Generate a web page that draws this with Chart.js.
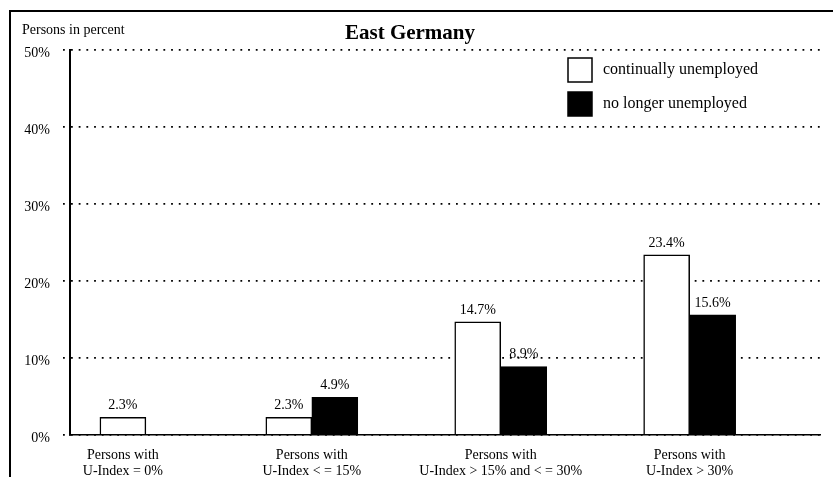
<!DOCTYPE html>
<html>
<head>
<meta charset="utf-8">
<script src="https://cdn.jsdelivr.net/npm/chart.js@4/dist/chart.umd.min.js"></script>
<style>
  html, body { margin: 0; padding: 0; background: #fff; overflow: hidden; }
  #wrap { position: relative; width: 833px; height: 477px; }
  #frame { position: absolute; left: 9px; top: 10px; width: 830px; height: 470px;
           border-top: 2px solid #000; border-left: 2px solid #000; pointer-events: none; }
</style>
</head>
<body>
<div id="wrap">
  <canvas id="chart"></canvas>
  <div id="frame"></div>
</div>
<script>
// values
const categories = [
  ["Persons with", "U-Index = 0%"],
  ["Persons with", "U-Index < = 15%"],
  ["Persons with", "U-Index > 15% and < = 30%"],
  ["Persons with", "U-Index > 30%"]
];
const continuallyUnemployed = [2.3, 2.3, 14.7, 23.4];
const noLongerUnemployed = [null, 4.9, 8.9, 15.6];
const yTicks = [0, 10, 20, 30, 40, 50];

const serif = "'Liberation Serif', 'DejaVu Serif', serif";

// value labels above each bar
const barLabels = {
  id: "barLabels",
  afterDatasetsDraw(chart) {
    const ctx = chart.ctx;
    ctx.save();
    ctx.font = "14px " + serif;
    ctx.fillStyle = "#000";
    ctx.textAlign = "center";
    ctx.textBaseline = "bottom";
    chart.data.datasets.forEach((ds, i) => {
      chart.getDatasetMeta(i).data.forEach((bar, j) => {
        const v = ds.data[j].y;
        if (v == null) return;
        ctx.fillText(v.toFixed(1) + "%", bar.x, bar.y - 5);
      });
    });
    ctx.restore();
  }
};

// axis caption and boxed legend inside the plot
const extras = {
  id: "extras",
  afterDraw(chart) {
    const ctx = chart.ctx;
    ctx.save();
    ctx.fillStyle = "#000";
    ctx.font = "14px " + serif;
    ctx.textAlign = "left";
    ctx.textBaseline = "middle";
    ctx.fillText("Persons in percent", 22, 30);

    chart.data.datasets.forEach((ds, i) => {
      const y = 58 + i * 34;
      ctx.fillStyle = ds.backgroundColor;
      ctx.fillRect(568, y, 24, 24);
      ctx.lineWidth = 1.5;
      ctx.strokeStyle = "#000";
      ctx.strokeRect(568, y, 24, 24);
      ctx.fillStyle = "#000";
      ctx.font = "16px " + serif;
      ctx.fillText(ds.label, 603, y + 12);
    });
    ctx.restore();
  }
};

const toPoints = arr => arr.map((v, i) => ({ x: i, y: v }));

new Chart(document.getElementById("chart"), {
  type: "bar",
  data: {
    datasets: [
      {
        label: "continually unemployed",
        data: toPoints(continuallyUnemployed),
        backgroundColor: "#ffffff",
        borderColor: "#000000",
        borderWidth: 1.5
      },
      {
        label: "no longer unemployed",
        data: toPoints(noLongerUnemployed),
        backgroundColor: "#000000",
        borderColor: "#000000",
        borderWidth: 1.5
      }
    ]
  },
  options: {
    responsive: true,
    maintainAspectRatio: false,
    animation: false,
    skipNull: true,
    barThickness: 46,
    layout: { padding: { top: 0, right: 13, left: 0, bottom: 0 } },
    plugins: {
      legend: { display: false },
      tooltip: { enabled: false },
      title: {
        display: true,
        text: "East Germany",
        color: "#000",
        font: { family: serif, size: 21, weight: "bold" },
        padding: { top: 21, bottom: 4 }
      }
    },
    scales: {
      x: {
        type: "linear",
        bounds: "data",
        min: -0.28,
        max: 3.69,
        offset: false,
        grid: { display: false, offset: false },
        border: { display: true, color: "#000", width: 1.5 },
        afterBuildTicks: s => { s.ticks = categories.map((c, i) => ({ value: i })); },
        afterFit: s => { s.height = 42; },
        ticks: {
          autoSkip: false,
          maxRotation: 0,
          padding: 4,
          color: "#000",
          font: { family: serif, size: 14, lineHeight: 1.15 },
          callback: v => categories[v]
        }
      },
      y: {
        min: 0,
        max: 50,
        afterBuildTicks: s => { s.ticks = yTicks.map(v => ({ value: v })); },
        afterFit: s => { s.width = 70; },
        grid: {
          color: "#000",
          lineWidth: 1.8,
          drawTicks: true,
          tickLength: 7,
          tickBorderDash: [1.8, 5.9]
        },
        border: { display: true, color: "#000", width: 2, dash: [1.8, 5.9] },
        ticks: {
          padding: 13,
          labelOffset: 3,
          color: "#000",
          font: { family: serif, size: 14 },
          callback: v => v + "%"
        }
      }
    }
  },
  plugins: [barLabels, extras]
});
</script>
</body>
</html>
